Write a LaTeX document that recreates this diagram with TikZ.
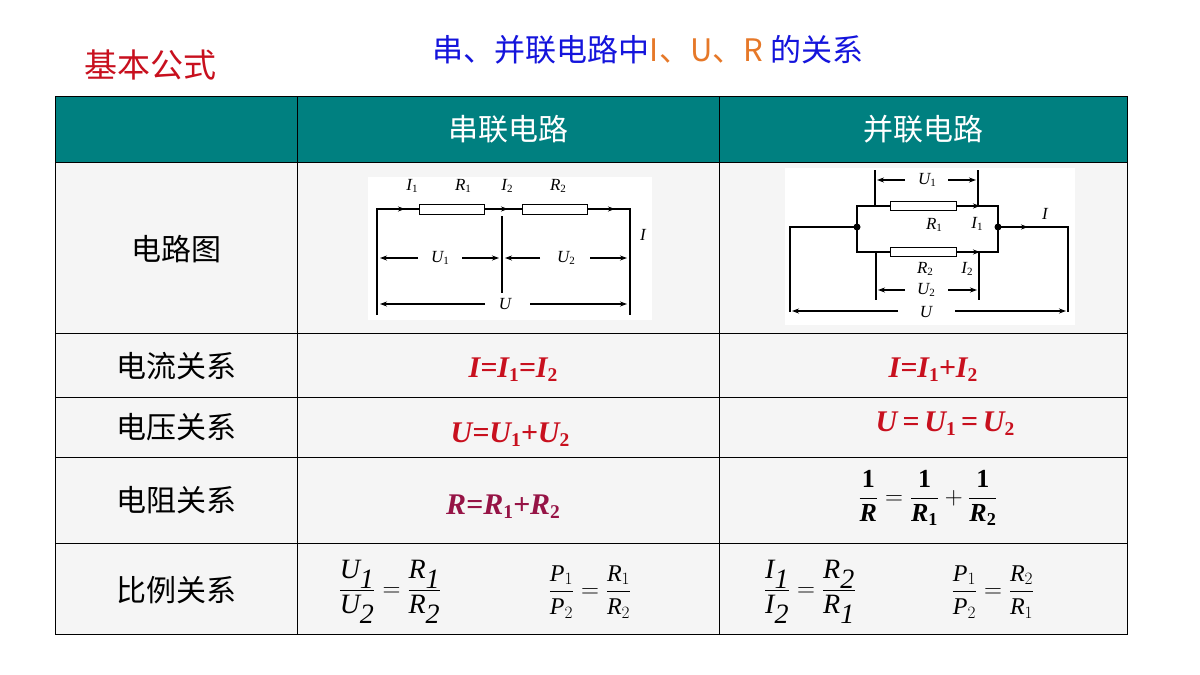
\documentclass[tikz,border=0pt]{standalone}
\usepackage{fontspec}
\setmainfont{Liberation Serif}
\newfontfamily\cjk{Noto Sans CJK SC}
\usetikzlibrary{arrows.meta}
\definecolor{teal1}{RGB}{0,128,128}
\definecolor{fred}{RGB}{200,16,30}
\definecolor{fpur}{RGB}{150,20,70}
\definecolor{tblue}{RGB}{20,20,220}
\definecolor{torg}{RGB}{230,120,40}
\newcommand{\mysb}[1]{\raisebox{-0.3ex}{\fontsize{0.65em}{0.65em}\selectfont\upshape #1}}
\begin{document}
\begin{tikzpicture}[x=1pt,y=-1pt,
  hdr/.style={text=white,font=\cjk\fontsize{30}{30}\selectfont},
  lab/.style={font=\cjk\fontsize{30}{30}\selectfont},
  frm/.style={text=fred,font=\fontsize{30}{30}\selectfont\bfseries\itshape},
  sm/.style={font=\fontsize{17}{17}\selectfont\itshape,inner sep=0pt},
  w/.style={line width=1.1pt},
  ar/.style={w,-{Stealth[length=7pt,width=5pt]}},
  res/.style={draw,line width=1pt,fill=white,minimum width=65pt,minimum height=10pt,inner sep=0pt},
  ratio/.style={font=\fontsize{28}{28}\selectfont}]
\useasboundingbox (0,0) rectangle (1200,675);
\fill[white] (0,0) rectangle (1200,675);
% table
\fill[black!4] (55,162) rectangle (1127,634);
\fill[teal1] (55,96) rectangle (1127,162);
\draw[line width=0.8pt] (55,96) rectangle (1127,634);
\foreach \y in {162,333,397,457,543} \draw[line width=0.8pt] (55,\y) -- (1127,\y);
\draw[line width=0.8pt] (297,96) -- (297,634) (719,96) -- (719,634);
% titles
\node[text=fred,font=\cjk\fontsize{33}{33}\selectfont] (t1) at (150,65) {基本公式};
\node[font=\cjk\fontsize{31}{31}\selectfont,text=tblue] (t2) at (648,50) {串、并联电路中\textcolor{torg}{I、U、R} 的关系};
\node[hdr] (h1) at (508,129) {串联电路};
\node[hdr] (h2) at (923,129) {并联电路};
\node[lab] (l1) at (176,249) {电路图};
\node[lab] (l2) at (176,366) {电流关系};
\node[lab] (l3) at (176,427) {电压关系};
\node[lab] (l4) at (176,500) {电阻关系};
\node[lab] (l5) at (176,590) {比例关系};
% formulas
\node[frm] (f1) at (513,370) {I=I\mysb{1}=I\mysb{2}};
\node[frm] (f2) at (933,370) {I=I\mysb{1}+I\mysb{2}};
\node[frm] (f3) at (510,435) {U=U\mysb{1}+U\mysb{2}};
\node[frm] (f4) at (945,424) {U\,=\,U\mysb{1}\,=\,U\mysb{2}};
\node[frm,text=fpur] (f5) at (503,507) {R=R\mysb{1}+R\mysb{2}};
\node[font=\fontsize{26}{26}\selectfont\bfseries] (f6) at (928,498)
  {$\displaystyle\frac{\textbf{1}}{\textbf{\textit{R}}}=\frac{\textbf{1}}{\textbf{\textit{R}}_{\mathbf{1}}}+\frac{\textbf{1}}{\textbf{\textit{R}}_{\mathbf{2}}}$};
\node[ratio] (p1) at (390,592) {$\displaystyle\frac{\textit{U}_{\textit{1}}}{\textit{U}_{\textit{2}}}=\frac{\textit{R}_{\textit{1}}}{\textit{R}_{\textit{2}}}$};
\node[ratio,font=\fontsize{24}{24}\selectfont] (p2) at (590,592) {$\displaystyle\frac{\textit{P}_{1}}{\textit{P}_{2}}=\frac{\textit{R}_{1}}{\textit{R}_{2}}$};
\node[ratio] (p3) at (810,592) {$\displaystyle\frac{\textit{I}_{\textit{1}}}{\textit{I}_{\textit{2}}}=\frac{\textit{R}_{\textit{2}}}{\textit{R}_{\textit{1}}}$};
\node[ratio,font=\fontsize{24}{24}\selectfont] (p4) at (993,592) {$\displaystyle\frac{\textit{P}_{1}}{\textit{P}_{2}}=\frac{\textit{R}_{2}}{\textit{R}_{1}}$};
% series circuit
\fill[white] (368,177) rectangle (652,320);
\coordinate (a1) at (377,315); \coordinate (a2) at (377,209);
\coordinate (b1) at (630,209); \coordinate (b2) at (630,315);
\node[res] (r1) at (452,209) {};
\node[res] (r2) at (555,209) {};
\draw[w] (a1) -- (a2) -- (r1.west) (r1.east) -- (r2.west) (r2.east) -- (b1) -- (b2);
\draw[ar] (377,209) -- (405,209);
\draw[ar] (485,209) -- (508,209);
\draw[ar] (588,209) -- (615,209);
\draw[w] (502,216) -- (502,293);
\draw[ar] (418,258) -- (380,258); \draw[ar] (462,258) -- (499,258);
\draw[ar] (540,258) -- (505,258); \draw[ar] (590,258) -- (627,258);
\draw[ar] (485,304) -- (380,304); \draw[ar] (530,304) -- (627,304);
\node[sm] (s1) at (412,186) {I\mysb{1}};
\node[sm] (s2) at (463,186) {R\mysb{1}};
\node[sm] (s3) at (507,186) {I\mysb{2}};
\node[sm] (s4) at (558,186) {R\mysb{2}};
\node[sm] (s5) at (643,235) {I};
\node[sm] (s6) at (440,258) {U\mysb{1}};
\node[sm] (s7) at (566,258) {U\mysb{2}};
\node[sm] (s8) at (505,304) {U};
% parallel circuit
\fill[white] (785,168) rectangle (1075,325);
\coordinate (c1) at (790,312); \coordinate (c2) at (790,227);
\coordinate (jl) at (857,227); \coordinate (jr) at (998,227);
\coordinate (d1) at (1068,227); \coordinate (d2) at (1068,312);
\node[res,minimum width=66pt,minimum height=9pt] (q1) at (923,206) {};
\node[res,minimum width=66pt,minimum height=9pt] (q2) at (923,252) {};
\draw[w] (c1) -- (c2) -- (jl) |- (q1.west) (q1.east) -| (jr) -- (d1) -- (d2);
\draw[w] (jl) |- (q2.west) (q2.east) -| (jr);
\fill (jl) circle (3.5pt) (jr) circle (3.5pt);
\draw[ar] (956,206) -- (980,206); \draw[ar] (956,252) -- (980,252);
\draw[ar] (998,227) -- (1028,227);
\draw[w] (875,170) -- (875,206) (978,170) -- (978,206);
\draw[w] (876,252) -- (876,300) (979,252) -- (979,300);
\draw[ar] (905,180) -- (877,180); \draw[ar] (948,180) -- (976,180);
\draw[ar] (905,290) -- (878,290); \draw[ar] (948,290) -- (977,290);
\draw[ar] (898,311) -- (792,311); \draw[ar] (955,311) -- (1066,311);
\node[sm] (u1) at (927,180) {U\mysb{1}};
\node[sm] (u2) at (934,225) {R\mysb{1}};
\node[sm] (u3) at (977,224) {I\mysb{1}};
\node[sm] (u4) at (1045,214) {I};
\node[sm] (u5) at (925,269) {R\mysb{2}};
\node[sm] (u6) at (967,269) {I\mysb{2}};
\node[sm] (u7) at (926,290) {U\mysb{2}};
\node[sm] (u8) at (926,312) {U};
\end{tikzpicture}
\end{document}
